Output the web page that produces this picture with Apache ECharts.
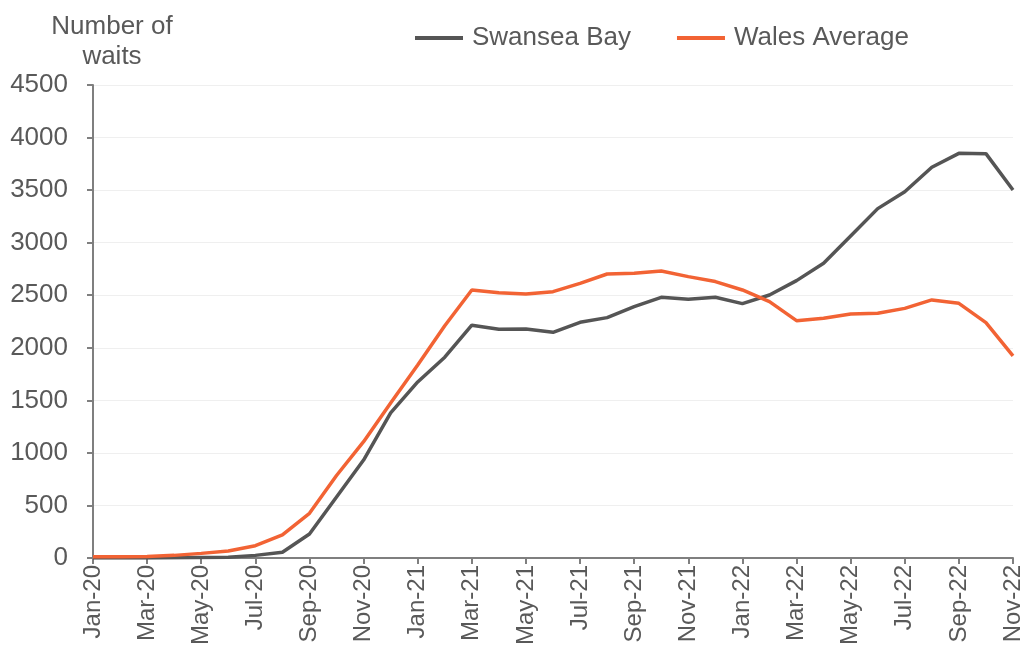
<!DOCTYPE html>
<html>
<head>
<meta charset="utf-8">
<script src="https://cdn.jsdelivr.net/npm/echarts@6/dist/echarts.min.js"></script>
<style>
  html, body { margin: 0; padding: 0; background: #fff; }
  #chart { width: 1025px; height: 660px; }
</style>
</head>
<body>
<div id="chart"></div>
<script>
// Monthly categories
const months = [
  'Jan-20','Feb-20','Mar-20','Apr-20','May-20','Jun-20','Jul-20','Aug-20','Sep-20','Oct-20','Nov-20','Dec-20',
  'Jan-21','Feb-21','Mar-21','Apr-21','May-21','Jun-21','Jul-21','Aug-21','Sep-21','Oct-21','Nov-21','Dec-21',
  'Jan-22','Feb-22','Mar-22','Apr-22','May-22','Jun-22','Jul-22','Aug-22','Sep-22','Oct-22','Nov-22'
];

const swanseaBay = [
  0, 0, 0, 2, 5, 8, 25, 55, 228, 580, 932, 1380,
  1675, 1910, 2215, 2176, 2179, 2147, 2242, 2287, 2391, 2480, 2461, 2480,
  2420, 2502, 2639, 2804, 3064, 3324, 3485, 3717, 3850, 3847, 3501
];

const walesAverage = [
  12, 13, 15, 25, 44, 67, 117, 219, 425, 785, 1107, 1475,
  1836, 2210, 2550, 2524, 2512, 2534, 2613, 2702, 2709, 2731, 2677, 2630,
  2550, 2439, 2258, 2280, 2322, 2328, 2375, 2455, 2423, 2239, 1922
];

const yTicks = { min: 0, max: 4500, step: 500 };

const textColor = '#595959';
const font = 'Liberation Sans, Arial, sans-serif';

const chart = echarts.init(document.getElementById('chart'));
chart.setOption({
  animation: false,
  textStyle: { fontFamily: font },
  graphic: [{
    type: 'text',
    x: 112,
    y: 12,
    style: {
      text: 'Number of\nwaits',
      textAlign: 'center',
      font: '26px ' + font,
      lineHeight: 30,
      fill: textColor
    }
  }],
  legend: {
    top: 20,
    left: 410,
    itemWidth: 48,
    itemHeight: 4,
    itemGap: 46,
    icon: 'rect',
    textStyle: { fontSize: 26, color: textColor, fontFamily: font, padding: [0, 0, 0, 4] },
    data: ['Swansea Bay', 'Wales Average']
  },
  grid: { left: 93, right: 12, top: 85, bottom: 102, containLabel: false },
  xAxis: {
    type: 'category',
    data: months,
    boundaryGap: false,
    axisLine: { lineStyle: { color: '#7f7f7f', width: 2 } },
    axisTick: { show: true, interval: 1, length: 6, lineStyle: { color: '#7f7f7f', width: 2 } },
    axisLabel: {
      interval: 1,
      rotate: 90,
      margin: 7,
      fontSize: 24,
      color: textColor,
      fontFamily: font
    },
    splitLine: { show: false }
  },
  yAxis: {
    type: 'value',
    min: yTicks.min,
    max: yTicks.max,
    interval: yTicks.step,
    axisLine: { show: true, lineStyle: { color: '#7f7f7f', width: 2 } },
    axisTick: { show: true, inside: false, length: 6, lineStyle: { color: '#7f7f7f', width: 2 } },
    axisLabel: { fontSize: 26, color: textColor, margin: 25, fontFamily: font, formatter: v => String(v) },
    splitLine: { show: true, lineStyle: { color: '#efefef', width: 1 } }
  },
  series: [
    {
      name: 'Swansea Bay',
      type: 'line',
      data: swanseaBay,
      symbol: 'none',
      lineStyle: { color: '#555555', width: 3.5 },
      itemStyle: { color: '#555555' }
    },
    {
      name: 'Wales Average',
      type: 'line',
      data: walesAverage,
      symbol: 'none',
      lineStyle: { color: '#f26334', width: 3.5 },
      itemStyle: { color: '#f26334' }
    }
  ]
});
</script>
</body>
</html>
